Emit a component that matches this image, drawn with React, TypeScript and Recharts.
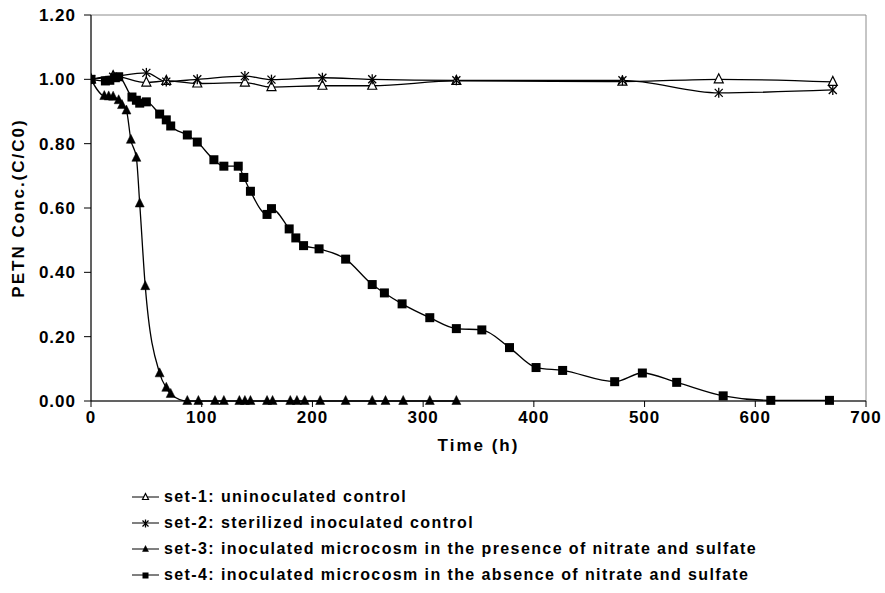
import React from "react";
import {
  LineChart,
  Line,
  XAxis,
  YAxis,
  Legend,
  ReferenceArea,
} from "recharts";

const FONT = "'Liberation Sans', Arial, sans-serif";

// set-1: uninoculated control
const set1Time = [0, 20, 50, 68, 96, 139, 163, 209, 254, 330, 480, 567, 670];
const set1Conc = [1.0, 1.01, 0.99, 0.995, 0.987, 0.99, 0.976, 0.98, 0.98, 0.995, 0.993, 1.0, 0.992];

// set-2: sterilized inoculated control
const set2Time = [0, 20, 50, 68, 96, 139, 163, 209, 254, 330, 480, 567, 670];
const set2Conc = [1.0, 1.008, 1.02, 0.993, 1.0, 1.01, 0.999, 1.005, 1.0, 0.997, 0.997, 0.958, 0.967];

// set-3: inoculated, nitrate and sulfate present
const set3Time = [
  0, 12, 16, 20, 25, 28, 32, 36, 41, 44, 49, 62, 68, 72, 87, 97, 112, 120, 134, 139, 144,
  159, 164, 180, 186, 193, 207, 230, 254, 266, 282, 306, 330,
];
const set3Conc = [
  1.0, 0.948, 0.947, 0.946, 0.935, 0.92, 0.903, 0.812, 0.756, 0.614, 0.357, 0.086, 0.041,
  0.022, 0, 0, 0, 0, 0, 0, 0, 0, 0, 0, 0, 0, 0, 0, 0, 0, 0, 0, 0,
];

// set-4: inoculated, nitrate and sulfate absent
const set4Time = [
  0, 13, 17, 22, 25, 37, 41, 44, 50, 62, 68, 72, 87, 96, 111, 120, 133, 138, 144, 159, 163,
  179, 185, 192, 206, 230, 254, 265, 281, 306, 330, 353, 378, 402, 426, 473, 498, 529, 571,
  614, 667,
];
const set4Conc = [
  1.0, 0.995, 0.997, 1.005, 1.008, 0.945, 0.935, 0.926, 0.93, 0.892, 0.874, 0.855, 0.827,
  0.805, 0.75, 0.73, 0.73, 0.695, 0.652, 0.58, 0.598, 0.535, 0.507, 0.483, 0.473, 0.441,
  0.362, 0.336, 0.302, 0.259, 0.225, 0.221, 0.166, 0.104, 0.095, 0.06, 0.087, 0.058, 0.016,
  0.002, 0.002,
];

const xTicks = [0, 100, 200, 300, 400, 500, 600, 700];
const yTicks = [0, 0.2, 0.4, 0.6, 0.8, 1.0, 1.2];

const seriesNames = [
  "set-1: uninoculated control",
  "set-2: sterilized inoculated control",
  "set-3: inoculated microcosm in the presence of nitrate and sulfate",
  "set-4: inoculated microcosm in the absence of nitrate and sulfate",
];

type Kind = "openTri" | "star" | "tri" | "square";
const kinds: Kind[] = ["openTri", "star", "tri", "square"];

const toPoints = (t: number[], c: number[]) => t.map((time, i) => ({ time, conc: c[i] }));

const series = [
  toPoints(set1Time, set1Conc),
  toPoints(set2Time, set2Conc),
  toPoints(set3Time, set3Conc),
  toPoints(set4Time, set4Conc),
];

function Marker({ kind, cx, cy, s }: { kind: Kind; cx: number; cy: number; s: number }) {
  const h = s / 2;
  if (kind === "square") {
    return <rect x={cx - h} y={cy - h} width={s} height={s} fill="#000" />;
  }
  if (kind === "tri" || kind === "openTri") {
    const pts = `${cx},${cy - h - 1} ${cx - h},${cy + h - 1} ${cx + h},${cy + h - 1}`;
    return (
      <polygon
        points={pts}
        fill={kind === "tri" ? "#000" : "#fff"}
        stroke="#000"
        strokeWidth={kind === "tri" ? 0.5 : 1.2}
      />
    );
  }
  return (
    <g stroke="#000" strokeWidth={1.3}>
      <line x1={cx - h} y1={cy - h} x2={cx + h} y2={cy + h} />
      <line x1={cx - h} y1={cy + h} x2={cx + h} y2={cy - h} />
      <line x1={cx} y1={cy - h - 1} x2={cx} y2={cy + h + 1} />
    </g>
  );
}

const dotFor = (kind: Kind) => (props: any) => {
  const { cx, cy, index } = props;
  return (
    <g key={`${kind}-${index}`}>
      <Marker kind={kind} cx={cx} cy={cy} s={kind === "star" ? 8 : 9} />
    </g>
  );
};

function LegendBlock() {
  return (
    <div style={{ paddingLeft: 132, paddingTop: 23, fontFamily: FONT }}>
      {seriesNames.map((name, i) => (
        <div key={name} style={{ display: "flex", alignItems: "center", height: 26 }}>
          <svg width={27} height={14} style={{ marginRight: 5 }}>
            <line x1={0} y1={7} x2={27} y2={7} stroke="#000" strokeWidth={1} />
            <Marker kind={kinds[i]} cx={13.5} cy={7.5} s={6} />
          </svg>
          <span style={{ fontSize: 16, fontWeight: "bold", color: "#000", letterSpacing: 1.4 }}>
            {name}
          </span>
        </div>
      ))}
    </div>
  );
}

export default function App() {
  const tickStyle = {
    fontSize: 17,
    fontWeight: "bold",
    fill: "#000",
    fontFamily: FONT,
    letterSpacing: 1,
  };
  return (
    <div style={{ position: "absolute", left: 0, top: 0, background: "#fff" }}>
      <LineChart width={885} height={593} margin={{ top: 15, right: 19, bottom: 0, left: 0 }}>
        <ReferenceArea
          x1={0}
          x2={700}
          y1={0}
          y2={1.2}
          fill="none"
          stroke="#8c8c8c"
          strokeWidth={1}
          ifOverflow="visible"
        />
        <XAxis
          type="number"
          dataKey="time"
          domain={[0, 700]}
          ticks={xTicks}
          allowDataOverflow
          height={60}
          tickSize={6}
          tickMargin={4}
          stroke="#000"
          tick={tickStyle}
          label={{
            value: "Time (h)",
            position: "insideBottom",
            offset: 10,
            style: {
              fontSize: 17,
              fontWeight: "bold",
              fill: "#000",
              fontFamily: FONT,
              letterSpacing: 2,
            },
          }}
        />
        <YAxis
          type="number"
          dataKey="conc"
          domain={[0, 1.2]}
          ticks={yTicks}
          width={91}
          tickSize={7}
          tickMargin={8}
          stroke="#000"
          tick={tickStyle}
          tickFormatter={(v: number) => v.toFixed(2)}
          label={{
            value: "PETN Conc.(C/C0)",
            angle: -90,
            position: "insideLeft",
            offset: 18,
            style: {
              fontSize: 17,
              fontWeight: "bold",
              fill: "#000",
              fontFamily: FONT,
              textAnchor: "middle",
              letterSpacing: 2,
            },
          }}
        />
        <Legend verticalAlign="bottom" height={132} content={() => <LegendBlock />} />
        {series.map((data, i) => (
          <Line
            key={seriesNames[i]}
            name={seriesNames[i]}
            data={data}
            dataKey="conc"
            type="monotone"
            stroke="#000"
            strokeWidth={1.3}
            dot={dotFor(kinds[i])}
            activeDot={false}
            isAnimationActive={false}
          />
        ))}
      </LineChart>
    </div>
  );
}
